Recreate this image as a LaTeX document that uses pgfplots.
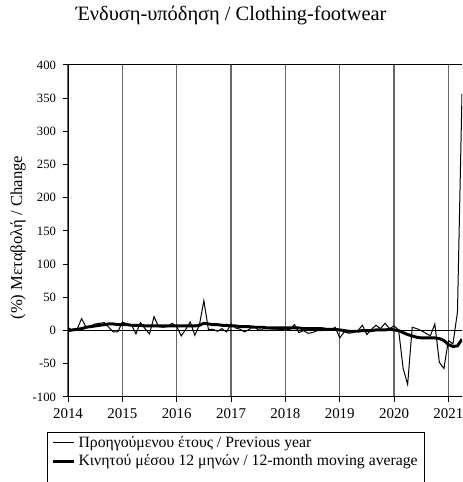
\documentclass[border=0pt]{standalone}
\usepackage{fontspec}
\setmainfont{Liberation Serif}
\usepackage{pgfplots}
\usepackage{pgfplotstable}
\pgfplotsset{compat=1.18}

% m = months since Jan 2014, prev = change on previous year, ma = 12-month moving average
\pgfplotstableread{
m prev ma
0 5 0
1 0 1
2 2 2
3 18 3
4 5 5
5 7 6
6 10 7
7 11 8
8 12 9
9 5 10
10 -2 10
11 -2 9
12 13 9
13 10 9
14 9 8
15 -5 8
16 12 8
17 3 7
18 -5 7
19 21 7
20 6 7
21 5 7
22 6 7
23 11 7
24 6 7
25 -8 7
26 2 7
27 13 7
28 -7 7
29 8 8
30 45 11
31 2 10
32 2 9
33 -1 9
34 3 8
35 -2 8
36 10 7
37 4 7
38 2 6
39 -2 6
40 2 6
41 7 5
42 1 5
43 1 5
44 0 4
45 1 4
46 1 4
47 2 4
48 1 4
49 2 4
50 9 4
51 -3 4
52 0 3
53 -4 3
54 -3 3
55 0 3
56 0 3
57 1 2
58 1 2
59 5 2
60 -11 1
61 -2 0
62 -4 -1
63 -3 -1
64 0 -1
65 8 0
66 -6 0
67 2 0
68 8 1
69 3 1
70 11 1
71 3 2
72 7 1
73 1 0
74 -57 -3
75 -81 -6
76 5 -8
77 3 -10
78 0 -11
79 -4 -11
80 -8 -11
81 10 -11
82 -48 -12
83 -57 -15
84 -15 -21
85 -20 -24
86 28 -23
87 357 -13
}\data

\begin{document}
\begin{tikzpicture}
\begin{axis}[
    scale only axis,
    width=295.5pt, height=249pt,
    xmin=0, xmax=87, ymin=-100, ymax=400,
    axis lines=left,
    axis line style={-, black, line width=0.75pt},
    tick align=outside,
    major tick length=3.5pt,
    tick style={black, line width=0.75pt},
    xtick={0,12,...,84},
    xticklabels={2014,2015,2016,2017,2018,2019,2020,2021},
    ytick={-100,-50,...,400},
    /pgf/number format/assume math mode=true,
    yticklabel style={font=\fontsize{9.5}{10}\selectfont, xshift=-2pt},
    xticklabel style={font=\fontsize{11.2}{12}\selectfont, yshift=-2pt},
    xmajorgrids,
    x grid style={black!60, line width=1pt},
    extra y ticks={0,400},
    extra y tick labels={},
    extra y tick style={ymajorgrids=true, major tick length=0pt,
        y grid style={black, line width=0.75pt}},
    title={Ένδυση-υπόδηση / Clothing-footwear},
    title style={at={(axis description cs:0.414,1)}, anchor=base,
        yshift=27pt, font=\fontsize{15.3}{16}\selectfont},
    ylabel={(\%) Μεταβολή / Change},
    ylabel style={at={(axis description cs:-0.127,0.48)}, anchor=center,
        rotate=0, font=\fontsize{12.5}{13}\selectfont},
    legend style={at={(axis description cs:-0.053,-0.105)}, anchor=north west,
        draw=black, line width=0.75pt, font=\fontsize{11.8}{12}\selectfont,
        inner xsep=3pt, inner ysep=1pt, row sep=0pt},
    legend cell align=left,
    legend image code/.code={\draw[#1] (0pt,0pt) -- (16pt,0pt);},
]
\addplot[black, line width=0.75pt] table[x=m, y=prev] {\data};
\addlegendentry{Προηγούμενου έτους / Previous year}
\addplot[black, line width=2.2pt] table[x=m, y=ma] {\data};
\addlegendentry{Κινητού μέσου 12 μηνών / 12-month moving average}
\addlegendimage{empty legend}
\addlegendentry{}
\addlegendimage{empty legend}
\addlegendentry{}
\end{axis}
\pgfresetboundingbox
\path[use as bounding box] ([shift={(-51pt,-63.75pt)}]current axis.south west)
    rectangle ([shift={(0pt,48.75pt)}]current axis.north east);
\end{tikzpicture}
\end{document}
